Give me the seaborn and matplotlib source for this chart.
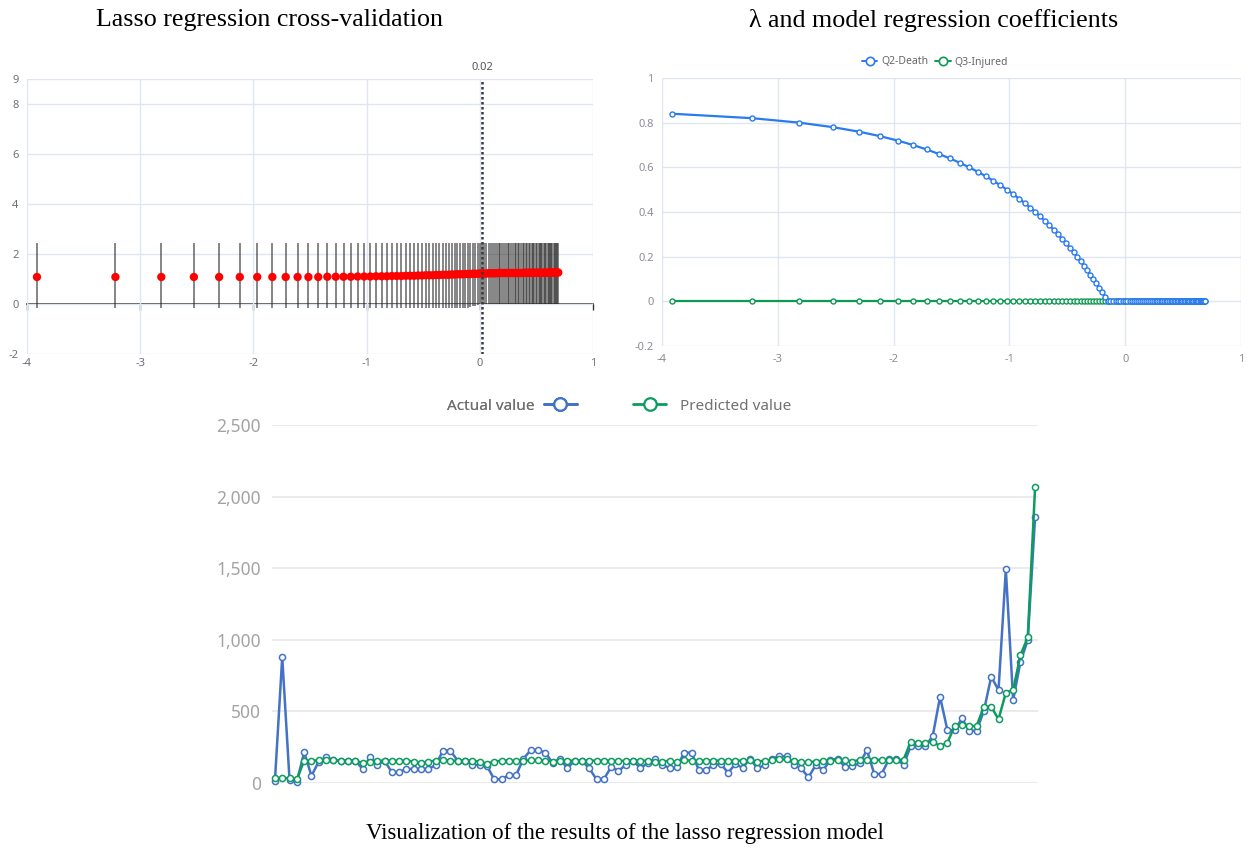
import numpy as np
import matplotlib
matplotlib.use("Agg")
import matplotlib.pyplot as plt
from matplotlib.lines import Line2D
import seaborn as sns

# ---- top panels: lambda grid (x axis is log(lambda)) ----
lambdas = [
    0.02, 0.04, 0.06, 0.08, 0.10, 0.12, 0.14, 0.16, 0.18, 0.20,
    0.22, 0.24, 0.26, 0.28, 0.30, 0.32, 0.34, 0.36, 0.38, 0.40,
    0.42, 0.44, 0.46, 0.48, 0.50, 0.52, 0.54, 0.56, 0.58, 0.60,
    0.62, 0.64, 0.66, 0.68, 0.70, 0.72, 0.74, 0.76, 0.78, 0.80,
    0.82, 0.84, 0.86, 0.88, 0.90, 0.92, 0.94, 0.96, 0.98, 1.00,
    1.02, 1.04, 1.06, 1.08, 1.10, 1.12, 1.14, 1.16, 1.18, 1.20,
    1.22, 1.24, 1.26, 1.28, 1.30, 1.32, 1.34, 1.36, 1.38, 1.40,
    1.42, 1.44, 1.46, 1.48, 1.50, 1.52, 1.54, 1.56, 1.58, 1.60,
    1.62, 1.64, 1.66, 1.68, 1.70, 1.72, 1.74, 1.76, 1.78, 1.80,
    1.82, 1.84, 1.86, 1.88, 1.90, 1.92, 1.94, 1.96, 1.98, 2.00,
]

# cross-validation error: mean and error bar ends
cv_mean = [
    1.08, 1.08, 1.08, 1.08, 1.08, 1.08, 1.08, 1.08, 1.08, 1.08,
    1.08, 1.08, 1.09, 1.09, 1.09, 1.09, 1.10, 1.10, 1.10, 1.11,
    1.11, 1.11, 1.12, 1.12, 1.12, 1.13, 1.13, 1.13, 1.14, 1.14,
    1.15, 1.15, 1.15, 1.16, 1.16, 1.17, 1.17, 1.17, 1.18, 1.18,
    1.19, 1.19, 1.19, 1.20, 1.20, 1.20, 1.21, 1.21, 1.21, 1.22,
    1.22, 1.22, 1.22, 1.23, 1.23, 1.23, 1.23, 1.23, 1.24, 1.24,
    1.24, 1.24, 1.24, 1.24, 1.24, 1.24, 1.24, 1.24, 1.24, 1.24,
    1.24, 1.24, 1.24, 1.25, 1.25, 1.25, 1.25, 1.25, 1.25, 1.25,
    1.25, 1.25, 1.25, 1.25, 1.25, 1.25, 1.25, 1.25, 1.25, 1.25,
    1.25, 1.26, 1.26, 1.26, 1.26, 1.26, 1.26, 1.26, 1.26, 1.26,
]
cv_upper = [
    2.44, 2.44, 2.44, 2.44, 2.44, 2.44, 2.44, 2.44, 2.44, 2.44,
    2.44, 2.44, 2.44, 2.44, 2.44, 2.44, 2.44, 2.44, 2.44, 2.44,
    2.44, 2.44, 2.44, 2.44, 2.44, 2.44, 2.44, 2.44, 2.44, 2.44,
    2.44, 2.44, 2.44, 2.44, 2.44, 2.44, 2.44, 2.44, 2.44, 2.44,
    2.44, 2.44, 2.44, 2.44, 2.44, 2.44, 2.44, 2.44, 2.44, 2.44,
    2.44, 2.44, 2.44, 2.44, 2.44, 2.44, 2.44, 2.44, 2.44, 2.44,
    2.44, 2.44, 2.44, 2.44, 2.44, 2.44, 2.44, 2.44, 2.44, 2.44,
    2.44, 2.44, 2.44, 2.44, 2.44, 2.44, 2.44, 2.44, 2.44, 2.44,
    2.44, 2.44, 2.44, 2.44, 2.44, 2.44, 2.44, 2.44, 2.44, 2.44,
    2.44, 2.44, 2.44, 2.44, 2.44, 2.44, 2.44, 2.44, 2.44, 2.44,
]
cv_lower = [
    -0.17, -0.17, -0.17, -0.17, -0.17, -0.17, -0.17, -0.17, -0.17, -0.17,
    -0.17, -0.17, -0.17, -0.17, -0.17, -0.17, -0.17, -0.17, -0.17, -0.17,
    -0.17, -0.17, -0.17, -0.17, -0.17, -0.17, -0.17, -0.17, -0.17, -0.17,
    -0.17, -0.17, -0.17, -0.17, -0.17, -0.17, -0.17, -0.17, -0.17, -0.17,
    -0.17, -0.17, -0.17, -0.17, -0.17, -0.13, -0.09, -0.06, -0.03, 0.00,
    0.01, 0.01, 0.01, 0.01, 0.01, 0.01, 0.01, 0.01, 0.01, 0.01,
    0.01, 0.01, 0.01, 0.01, 0.01, 0.01, 0.01, 0.01, 0.01, 0.01,
    0.01, 0.01, 0.01, 0.01, 0.01, 0.01, 0.01, 0.01, 0.01, 0.01,
    0.01, 0.01, 0.01, 0.01, 0.01, 0.01, 0.01, 0.01, 0.01, 0.01,
    0.01, 0.01, 0.01, 0.01, 0.01, 0.01, 0.01, 0.01, 0.01, 0.01,
]
best_lambda = 0.02

# regression coefficients along the lambda path
coef_death = [
    0.84, 0.82, 0.80, 0.78, 0.76, 0.74, 0.72, 0.70, 0.68, 0.66,
    0.64, 0.62, 0.60, 0.58, 0.56, 0.54, 0.52, 0.50, 0.48, 0.46,
    0.44, 0.42, 0.40, 0.38, 0.36, 0.34, 0.32, 0.30, 0.28, 0.26,
    0.24, 0.22, 0.20, 0.18, 0.16, 0.14, 0.12, 0.10, 0.08, 0.06,
    0.04, 0.02, 0.00, 0.00, 0.00, 0.00, 0.00, 0.00, 0.00, 0.00,
    0.00, 0.00, 0.00, 0.00, 0.00, 0.00, 0.00, 0.00, 0.00, 0.00,
    0.00, 0.00, 0.00, 0.00, 0.00, 0.00, 0.00, 0.00, 0.00, 0.00,
    0.00, 0.00, 0.00, 0.00, 0.00, 0.00, 0.00, 0.00, 0.00, 0.00,
    0.00, 0.00, 0.00, 0.00, 0.00, 0.00, 0.00, 0.00, 0.00, 0.00,
    0.00, 0.00, 0.00, 0.00, 0.00, 0.00, 0.00, 0.00, 0.00, 0.00,
]
coef_injured = [
    0, 0, 0, 0, 0, 0, 0, 0, 0, 0,
    0, 0, 0, 0, 0, 0, 0, 0, 0, 0,
    0, 0, 0, 0, 0, 0, 0, 0, 0, 0,
    0, 0, 0, 0, 0, 0, 0, 0, 0, 0,
    0, 0, 0, 0, 0, 0, 0, 0, 0, 0,
    0, 0, 0, 0, 0, 0, 0, 0, 0, 0,
    0, 0, 0, 0, 0, 0, 0, 0, 0, 0,
    0, 0, 0, 0, 0, 0, 0, 0, 0, 0,
    0, 0, 0, 0, 0, 0, 0, 0, 0, 0,
    0, 0, 0, 0, 0, 0, 0, 0, 0, 0,
]

# ---- bottom panel: actual vs predicted per sample ----
actual = [
    15, 880, 20, 8, 215, 50, 150, 180, 160, 156,
    156, 156, 98, 180, 126, 156, 75, 75, 98, 98,
    98, 98, 126, 226, 226, 156, 156, 126, 126, 120,
    26, 26, 55, 55, 170, 230, 230, 212, 140, 170,
    102, 156, 156, 102, 26, 26, 112, 84, 126, 156,
    102, 140, 170, 126, 105, 112, 212, 212, 91, 91,
    126, 133, 72, 133, 105, 170, 102, 126, 170, 186,
    186, 126, 102, 40, 126, 91, 160, 170, 110, 119,
    137, 230, 63, 63, 165, 165, 128, 258, 258, 258,
    328, 602, 370, 370, 451, 365, 365, 505, 742, 649,
    1491, 579, 847, 998, 1859,
]
predicted = [
    33, 35, 33, 26, 156, 156, 158, 160, 158, 156,
    156, 156, 140, 150, 156, 156, 156, 156, 156, 150,
    140, 150, 156, 158, 156, 156, 156, 156, 150, 135,
    150, 156, 156, 156, 156, 158, 158, 156, 150, 156,
    156, 156, 156, 156, 156, 156, 156, 152, 156, 156,
    156, 156, 150, 150, 156, 145, 160, 156, 156, 156,
    156, 156, 156, 156, 156, 160, 150, 156, 160, 165,
    165, 156, 145, 145, 150, 156, 156, 160, 161, 150,
    161, 163, 163, 161, 163, 161, 163, 288, 281, 281,
    288, 258, 281, 398, 405, 398, 398, 533, 533, 445,
    630, 649, 893, 1017, 2064,
]
samples = list(range(1, len(actual) + 1))

sns.set_theme(style="white")
plt.rcParams["font.family"] = ["Noto Sans", "DejaVu Sans"]
plt.rcParams["axes.unicode_minus"] = False

GRID = "#e0e6f1"
TICK = "#6e7079"
serif = ["Liberation Serif", "DejaVu Serif"]

fig = plt.figure(figsize=(12.49, 8.49), dpi=100)
W, H = 1249, 849


def px_axes(x0, y0, x1, y1):
    return fig.add_axes([x0 / W, 1 - y1 / H, (x1 - x0) / W, (y1 - y0) / H])


log_lam = np.log(lambdas)

# 1. cross-validation panel
ax1 = px_axes(27, 79, 593, 354)
ax1.vlines(log_lam, cv_lower, cv_upper, color="#262626", alpha=0.6, lw=1.3, zorder=2)
sns.scatterplot(x=log_lam, y=cv_mean, color="#ff0000", s=36, edgecolor="none",
                ax=ax1, zorder=3)
ax1.axvline(best_lambda, color="#3a3a3a", ls=(0, (1.0, 1.0)), lw=1.8, zorder=4)
ax1.text(best_lambda, 9.25, "0.02", ha="center", va="bottom", fontsize=8, color="#555555")
ax1.set_xlim(-4, 1)
ax1.set_ylim(-2, 9)
ax1.set_xticks([-4, -3, -2, -1, 0, 1])
ax1.set_yticks([-2, 0, 2, 4, 6, 8, 9])
ax1.grid(True, color=GRID, lw=1)
for s in ax1.spines.values():
    s.set_visible(False)
ax1.tick_params(length=0, labelsize=8, colors=TICK, pad=3)
ax1.tick_params(axis="y", pad=6)
zero_axis = ax1.secondary_xaxis(2 / 11)
zero_axis.spines["bottom"].set_color("#333333")
zero_axis.spines["bottom"].set_linewidth(1.2)
zero_axis.set_xticks([-4, -3, -2, -1, 0, 1])
zero_axis.tick_params(labelbottom=False, length=4, width=1, color="#333333", direction="out")

# 2. coefficient path panel
BLUE2, GREEN2 = "#2a7af0", "#0e9a52"
ax2 = px_axes(662, 78, 1241, 346)
sns.lineplot(x=log_lam, y=coef_death, ax=ax2, color=BLUE2, lw=1.6, marker="o",
             markersize=3.6, markerfacecolor="white", markeredgecolor=BLUE2,
             markeredgewidth=1.0, zorder=3)
sns.lineplot(x=log_lam, y=coef_injured, ax=ax2, color=GREEN2, lw=1.6, marker="o",
             markersize=3.6, markerfacecolor="white", markeredgecolor=GREEN2,
             markeredgewidth=1.0, zorder=2)
ax2.set_xlim(-4, 1)
ax2.set_ylim(-0.2, 1)
ax2.set_xticks([-4, -3, -2, -1, 0, 1])
ax2.set_yticks([-0.2, 0, 0.2, 0.4, 0.6, 0.8, 1])
ax2.set_yticklabels(["-0.2", "0", "0.2", "0.4", "0.6", "0.8", "1"])
ax2.grid(True, color=GRID, lw=1)
for s in ax2.spines.values():
    s.set_visible(False)
ax2.tick_params(length=0, labelsize=8, colors="#8a8d96", pad=6)
h2 = [Line2D([], [], color=BLUE2, lw=1.4, marker="o", ms=6, mfc="white", mew=1.2),
      Line2D([], [], color=GREEN2, lw=1.4, marker="o", ms=6, mfc="white", mew=1.2)]
fig.legend(h2, ["Q2-Death", "Q3-Injured"], loc="center", bbox_to_anchor=(935 / W, 1 - 62 / H),
           ncol=2, frameon=False, fontsize=7.5, labelcolor="#666666", handlelength=1.5,
           handletextpad=0.4, columnspacing=0.6)

# 3. actual vs predicted panel
BLUE3, GREEN3 = "#4472c4", "#0c9c60"
ax3 = px_axes(272, 425, 1038, 783)
sns.lineplot(x=samples, y=actual, ax=ax3, color=BLUE3, lw=1.8, marker="o", markersize=4.4,
             markerfacecolor="white", markeredgecolor=BLUE3, markeredgewidth=1.1,
             clip_on=False, zorder=2)
sns.lineplot(x=samples, y=predicted, ax=ax3, color=GREEN3, lw=1.8, marker="o", markersize=4.4,
             markerfacecolor="white", markeredgecolor=GREEN3, markeredgewidth=1.1,
             clip_on=False, zorder=3)
ax3.set_xlim(0.6, len(samples) + 0.4)
ax3.set_ylim(0, 2500)
ax3.set_yticks([0, 500, 1000, 1500, 2000, 2500])
ax3.set_yticklabels(["0", "500", "1,000", "1,500", "2,000", "2,500"])
ax3.set_xticks([])
ax3.grid(True, axis="y", color="#e8e8e8", lw=1.2)
for s in ax3.spines.values():
    s.set_visible(False)
ax3.tick_params(length=0, labelsize=12.5, colors="#a3a3a3", pad=8)
ax3.set_xlabel("")
ax3.set_ylabel("")

leg_a = fig.legend([Line2D([], [], color=BLUE3, lw=2, marker="o", ms=9, mfc="white", mew=1.6)],
                   ["Actual value"], loc="center", bbox_to_anchor=(512 / W, 1 - 406 / H),
                   frameon=False, fontsize=11, labelcolor="#707070", markerfirst=False,
                   handlelength=2.2, handletextpad=0.6)
fig.add_artist(leg_a)
fig.legend([Line2D([], [], color=GREEN3, lw=2, marker="o", ms=9, mfc="white", mew=1.6)],
           ["Predicted value"], loc="center", bbox_to_anchor=(712 / W, 1 - 406 / H),
           frameon=False, fontsize=11, labelcolor="#707070", markerfirst=True,
           handlelength=2.2, handletextpad=0.9)

# titles and caption
fig.text(270 / W, 1 - 20 / H, "Lasso regression cross-validation", ha="center", va="center",
         fontsize=18.7, family=serif, color="black")
fig.text(934 / W, 1 - 20 / H, "λ and model regression coefficients", ha="center", va="center",
         fontsize=18.7, family=serif, color="black")
fig.text(625 / W, 1 - 833 / H, "Visualization of the results of the lasso regression model",
         ha="center", va="center", fontsize=16.5, family=serif, color="black")

fig.savefig("out.png", dpi=100)
